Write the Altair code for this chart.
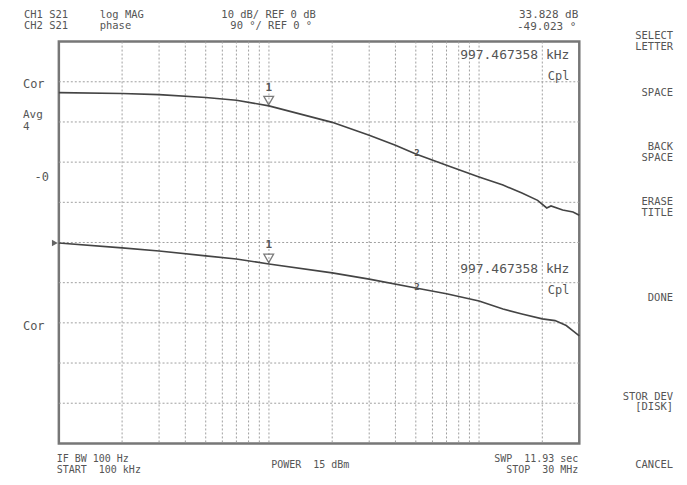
import altair as alt
import pandas as pd

# ---- data (frequency in MHz) ----
freq_mag = [0.1, 0.2, 0.3, 0.5, 0.7, 1.0, 2, 3, 4, 5, 7, 10, 13, 16, 19, 21, 22, 25, 28, 30]
mag_db = [37.3, 37.1, 36.8, 36.1, 35.4, 34.0, 29.9, 26.7, 24.2, 22.0, 19.2, 16.3, 14.3, 12.3, 10.5, 8.6, 9.1, 8.1, 7.6, 6.8]

freq_ph = [0.1, 0.2, 0.3, 0.5, 0.7, 1.0, 2, 3, 5, 7, 10, 13, 16, 20, 23, 26, 28, 30]
phase_deg = [-1, -12, -19, -30, -37, -48, -68, -82, -102, -115, -131, -149, -160, -171, -175, -186, -198, -209]

marker_freq = [0.997467, 5.06]
marker_db = [33.828, 21.8]
marker_deg = [-49.023, -104]
marker_lbl = ["1", "2"]

grid_freq = [0.2, 0.3, 0.4, 0.5, 0.6, 0.7, 0.8, 0.9, 1, 2, 3, 4, 5, 6, 7, 8, 9, 10, 20]
grid_db = [-40, -30, -20, -10, 0, 10, 20, 30, 40]

W, H = 522, 403
FONT = "DejaVu Sans Mono"
TXT = "#555555"
TRACE = "#444444"
SP = "\u00a0"

xscale = alt.Scale(type="log", domain=[0.1, 30], nice=False)
yscale_db = alt.Scale(domain=[-50, 50], nice=False, zero=False)
yscale_deg = alt.Scale(domain=[-450, 450], nice=False, zero=False)

mag = pd.DataFrame({"f": freq_mag, "v": mag_db})
ph = pd.DataFrame({"f": freq_ph, "v": phase_deg})
mk1 = pd.DataFrame({"f": marker_freq, "v": marker_db, "l": marker_lbl})
mk2 = pd.DataFrame({"f": marker_freq, "v": marker_deg, "l": marker_lbl})
gx = pd.DataFrame({"f": grid_freq})
gy = pd.DataFrame({"v": grid_db})

grid_v = alt.Chart(gx).mark_rule(color="#a0a0a0", strokeDash=[2, 2], strokeWidth=1).encode(
    x=alt.X("f:Q", scale=xscale, axis=None)
)
grid_h = alt.Chart(gy).mark_rule(color="#a0a0a0", strokeDash=[2, 2], strokeWidth=1).encode(
    y=alt.Y("v:Q", scale=yscale_db, axis=None)
)

line_mag = alt.Chart(mag).mark_line(color=TRACE, strokeWidth=1.6).encode(
    x=alt.X("f:Q", scale=xscale, axis=None),
    y=alt.Y("v:Q", scale=yscale_db, axis=None),
)
line_ph = alt.Chart(ph).mark_line(color=TRACE, strokeWidth=1.6).encode(
    x=alt.X("f:Q", scale=xscale, axis=None),
    y=alt.Y("v:Q", scale=yscale_deg, axis=None),
)


def markers(df, ysc):
    enc = dict(x=alt.X("f:Q", scale=xscale, axis=None), y=alt.Y("v:Q", scale=ysc, axis=None))
    d1 = df.iloc[[0]]
    d2 = df.iloc[[1]]
    tri = alt.Chart(d1).mark_point(shape="triangle-down", filled=False, color=TRACE,
                                   size=95, strokeWidth=1.3, yOffset=-6).encode(**enc)
    num = alt.Chart(d1).mark_text(font=FONT, fontSize=11, fontWeight="bold", color=TXT,
                                  dy=-19).encode(text="l:N", **enc)
    num2 = alt.Chart(d2).mark_text(font=FONT, fontSize=9, fontWeight="bold", color=TXT,
                                   dy=-2).encode(text="l:N", **enc)
    return [tri, num, num2]


# annotations: (text, page_x, page_y_centre, align, size)
annotations = [
    ("CH1 S21", 24, 14, "left", 10.5),
    ("CH2 S21", 24, 25, "left", 10.5),
    ("log MAG", 100, 14, "left", 10.5),
    ("phase", 100, 25, "left", 10.5),
    ("10 dB/ REF 0 dB", 222, 14, "left", 10.5),
    ("90 °/ REF 0 °", 231, 25, "left", 10.5),
    ("33.828 dB", 580, 14, "right", 11),
    ("-49.023 °", 578, 26, "right", 11),
    ("997.467358 kHz", 571, 54, "right", 13),
    ("Cpl", 571, 76, "right", 12),
    ("997.467358 kHz", 571, 269, "right", 13),
    ("Cpl", 571, 290, "right", 12),
    ("Cor", 23, 84, "left", 12),
    ("Avg", 23, 115, "left", 11),
    ("4", 23, 127, "left", 11),
    ("-0", 49, 177, "right", 12),
    ("Cor", 23, 326, "left", 12),
    ("SELECT", 675, 35, "right", 10.5),
    ("LETTER", 675, 46, "right", 10.5),
    ("SPACE", 675, 93, "right", 10.5),
    ("BACK", 675, 147, "right", 10.5),
    ("SPACE", 675, 158, "right", 10.5),
    ("ERASE", 675, 202, "right", 10.5),
    ("TITLE", 675, 213, "right", 10.5),
    ("DONE", 675, 298, "right", 10.5),
    ("STOR DEV", 675, 397, "right", 10.5),
    ("[DISK]", 675, 408, "right", 10.5),
    ("CANCEL", 675, 466, "right", 10.5),
    ("IF BW 100 Hz", 57, 460, "left", 10),
    ("START" + SP * 2 + "100 kHz", 57, 471, "left", 10),
    ("POWER" + SP * 2 + "15 dBm", 272, 466, "left", 10),
    ("SWP" + SP * 2 + "11.93 sec", 580, 460, "right", 10),
    ("STOP" + SP * 2 + "30 MHz", 580, 471, "right", 10),
]

OX, OY = 59, 41
one = pd.DataFrame({"a": [0]})
ann_layers = []
for t, px, py, al, sz in annotations:
    ann_layers.append(
        alt.Chart(one).mark_text(font=FONT, fontSize=sz, color=TXT,
                                 align=al, baseline="middle").encode(
            x=alt.value(px - OX), y=alt.value(py - OY), text=alt.value(t)
        )
    )

ref_tri = alt.Chart(one).mark_point(shape="triangle-right", filled=True, color="#222222",
                                    size=45).encode(x=alt.value(-4), y=alt.value(243 - OY))

layers = [grid_v, grid_h, line_mag, line_ph] + markers(mk1, yscale_db) + markers(mk2, yscale_deg) \
    + [ref_tri] + ann_layers

chart = alt.layer(*layers).resolve_scale(y="independent").properties(
    width=W, height=H,
    autosize=alt.AutoSizeParams(type="none"),
    padding={"left": OX - 8, "top": OY - 8, "right": 100, "bottom": 32},
    background="white",
).configure_view(stroke="#777777", strokeWidth=2.5)

chart.save("out.html", embed_options={"renderer": "svg", "actions": False})
